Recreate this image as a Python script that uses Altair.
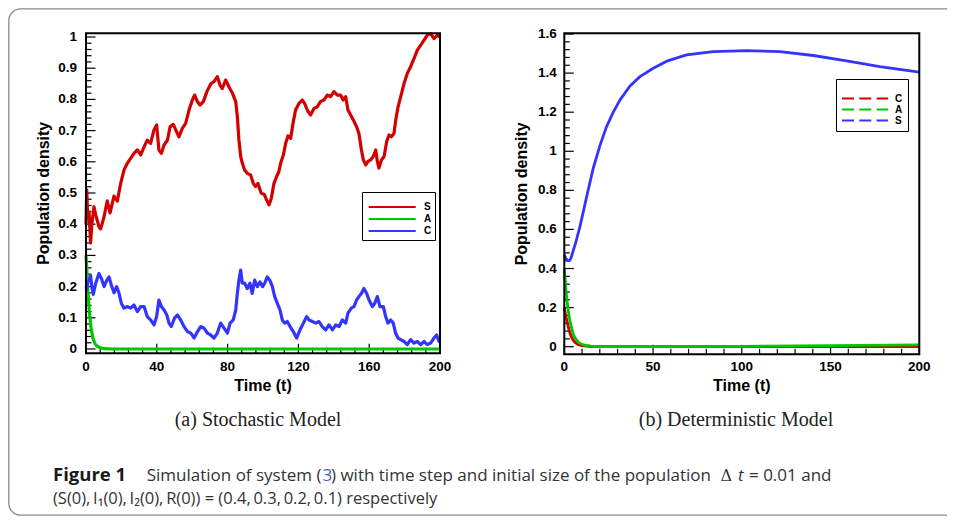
import altair as alt
import pandas as pd

# ---------------- data ----------------
# (a) Stochastic model : (t, value)
a_S = [(0, 0.40), (0.4, 0.51), (1.0, 0.42), (1.7, 0.44), (2.6, 0.34), (3.3, 0.40), (4.5, 0.456),
       (5.5, 0.43), (7.3, 0.392), (8.3, 0.385), (10.2, 0.424), (12.0, 0.475), (13.6, 0.436),
       (15.8, 0.49), (17.7, 0.474), (19.6, 0.531), (21.5, 0.574), (23.4, 0.596), (25.2, 0.611),
       (27.1, 0.627), (29.0, 0.638), (30.9, 0.622), (32.8, 0.648), (34.6, 0.669), (36.5, 0.659),
       (38.4, 0.702), (39.9, 0.718), (41.2, 0.638), (42.6, 0.627), (44.1, 0.654), (46.0, 0.669),
       (47.5, 0.712), (49.3, 0.72), (51.6, 0.691), (52.5, 0.68), (54.4, 0.707), (56.3, 0.723),
       (58.2, 0.766), (60.1, 0.798), (61.4, 0.814), (62.9, 0.793), (64.4, 0.782), (66.3, 0.793),
       (68.3, 0.825), (70.6, 0.851), (72.3, 0.857), (74.2, 0.873), (75.7, 0.846), (77.0, 0.835),
       (78.9, 0.862), (80.8, 0.84), (82.7, 0.82), (84.6, 0.793), (85.5, 0.745), (86.4, 0.67),
       (87.4, 0.617), (88.3, 0.596), (89.6, 0.574), (91.1, 0.563), (93.0, 0.558), (94.5, 0.531),
       (95.8, 0.521), (97.1, 0.531), (99.0, 0.499), (100.8, 0.495), (102.0, 0.478), (103.4, 0.462),
       (104.7, 0.483), (106.2, 0.531), (107.7, 0.553), (109.0, 0.569), (110.0, 0.596), (111.5, 0.622),
       (112.8, 0.659), (114.1, 0.683), (115.6, 0.675), (117.1, 0.728), (118.4, 0.766), (120.3, 0.787),
       (122.2, 0.798), (123.5, 0.787), (125.0, 0.766), (126.9, 0.75), (128.8, 0.771), (130.6, 0.776),
       (132.5, 0.793), (134.4, 0.798), (136.3, 0.814), (138.2, 0.809), (140.1, 0.825), (142.0, 0.814),
       (143.8, 0.814), (145.3, 0.798), (146.7, 0.809), (148.0, 0.766), (149.5, 0.75), (151.4, 0.73),
       (152.9, 0.712), (154.2, 0.691), (155.6, 0.638), (156.7, 0.606), (158.0, 0.59), (159.3, 0.601),
       (160.8, 0.606), (162.3, 0.617), (163.7, 0.638), (164.6, 0.601), (165.5, 0.58), (166.9, 0.606),
       (168.4, 0.617), (169.9, 0.665), (171.2, 0.686), (172.5, 0.68), (174.0, 0.691), (175.0, 0.734),
       (176.3, 0.776), (177.8, 0.809), (179.7, 0.851), (181.5, 0.883), (183.4, 0.905), (185.3, 0.931),
       (187.2, 0.958), (189.1, 0.974), (191.0, 0.99), (192.8, 1.006), (194.7, 1.011), (196.6, 0.995),
       (198.5, 1.006), (200.0, 1.0)]
a_A = [(0, 0.30), (0.5, 0.25), (1.0, 0.19), (1.5, 0.15), (2.0, 0.115), (2.5, 0.085), (3.0, 0.062),
       (4.0, 0.033), (5.0, 0.018), (6.0, 0.01), (8.0, 0.004), (10.0, 0.001), (15.0, 0.0), (200.0, 0.0)]
a_C = [(0, 0.2), (0.4, 0.19), (1.0, 0.215), (1.7, 0.22), (2.6, 0.235), (3.3, 0.2), (4.1, 0.175),
       (5.5, 0.211), (7.3, 0.242), (8.7, 0.226), (10.2, 0.2), (11.7, 0.22), (13.0, 0.231),
       (14.3, 0.205), (15.8, 0.18), (17.3, 0.2), (18.6, 0.18), (20.0, 0.146), (21.5, 0.131),
       (23.4, 0.136), (25.2, 0.131), (27.1, 0.141), (29.0, 0.12), (30.9, 0.136), (32.8, 0.136),
       (34.6, 0.104), (36.5, 0.093), (38.4, 0.077), (39.9, 0.104), (41.2, 0.157), (42.6, 0.136),
       (44.1, 0.125), (45.6, 0.11), (46.9, 0.083), (48.2, 0.072), (50.1, 0.1), (51.6, 0.109),
       (53.5, 0.093), (55.4, 0.072), (57.3, 0.056), (59.2, 0.051), (61.1, 0.035), (63.0, 0.056),
       (64.8, 0.072), (66.7, 0.067), (68.6, 0.051), (70.4, 0.045), (72.3, 0.035), (74.2, 0.051),
       (76.1, 0.083), (78.0, 0.067), (79.9, 0.051), (81.4, 0.083), (83.2, 0.093), (84.6, 0.125),
       (85.5, 0.178), (86.4, 0.221), (87.4, 0.253), (88.3, 0.211), (89.6, 0.211), (91.1, 0.194),
       (92.6, 0.211), (93.9, 0.178), (95.3, 0.221), (96.8, 0.2), (98.3, 0.215), (99.8, 0.2),
       (101.3, 0.215), (102.4, 0.231), (103.9, 0.22), (105.3, 0.2), (106.6, 0.168), (108.1, 0.146),
       (109.6, 0.125), (110.9, 0.093), (112.2, 0.083), (113.7, 0.088), (115.3, 0.072), (117.1, 0.056),
       (119.0, 0.035), (120.9, 0.061), (122.8, 0.083), (124.7, 0.104), (126.0, 0.093), (127.9, 0.088),
       (129.8, 0.083), (131.6, 0.088), (133.5, 0.072), (135.4, 0.061), (137.3, 0.077), (139.2, 0.061),
       (141.1, 0.077), (143.0, 0.072), (144.8, 0.093), (146.7, 0.083), (148.0, 0.115), (149.9, 0.131),
       (151.4, 0.136), (152.9, 0.157), (154.2, 0.168), (155.6, 0.178), (157.0, 0.194), (158.6, 0.178),
       (159.9, 0.157), (161.8, 0.136), (163.1, 0.146), (164.6, 0.168), (166.1, 0.136), (168.0, 0.136),
       (169.3, 0.104), (170.6, 0.083), (172.1, 0.093), (173.6, 0.083), (174.9, 0.051), (176.3, 0.035),
       (177.8, 0.03), (179.7, 0.024), (181.5, 0.014), (183.4, 0.03), (185.3, 0.019), (187.2, 0.024),
       (189.1, 0.014), (191.0, 0.024), (192.8, 0.014), (194.7, 0.019), (196.6, 0.035), (198.1, 0.045),
       (199.4, 0.024), (200.0, 0.03)]

# (b) Deterministic model
b_S = [(0, 0.47), (1, 0.45), (2, 0.44), (3, 0.44), (4, 0.46), (5, 0.49), (6.5, 0.535), (8.8, 0.614),
       (12.6, 0.768), (16.3, 0.913), (20.1, 1.03), (23.8, 1.126), (27.6, 1.20), (31.4, 1.263),
       (37.0, 1.334), (42.6, 1.382), (50.1, 1.425), (57.7, 1.461), (68.9, 1.493), (83.9, 1.51),
       (102.7, 1.515), (121.5, 1.51), (140.3, 1.49), (159.0, 1.462), (177.8, 1.433), (200.0, 1.405)]
b_C = [(0, 0.2), (1, 0.15), (2, 0.11), (3, 0.075), (4, 0.05), (5, 0.034), (6, 0.022), (8, 0.01),
       (10, 0.005), (15, 0.001), (20, 0.0), (200, 0.001)]
b_A = [(0, 0.4), (1, 0.28), (2, 0.2), (3, 0.14), (4, 0.1), (5, 0.065), (6, 0.045), (8, 0.022),
       (10, 0.012), (12, 0.007), (15, 0.003), (20, 0.001), (50, 0.0), (100, 0.002), (150, 0.005),
       (200, 0.009)]

series_a = ["S", "A", "C"]
series_b = ["C", "A", "S"]
colors_a = ["#d40000", "#00c800", "#3434ff"]
colors_b = ["#d40000", "#00c800", "#3434ff"]

a_x_major = [0, 40, 80, 120, 160, 200]
a_y_major = [0, 0.1, 0.2, 0.3, 0.4, 0.5, 0.6, 0.7, 0.8, 0.9, 1]
b_x_major = [0, 50, 100, 150, 200]
b_y_major = [0, 0.2, 0.4, 0.6, 0.8, 1, 1.2, 1.4, 1.6]
a_x_minor = [v for v in range(0, 201, 8) if v % 40]
a_y_minor = [round(i * 0.02, 2) for i in range(51) if i % 5]
b_x_minor = [v for v in range(0, 201, 10) if v % 50]
b_y_minor = [round(i * 0.04, 2) for i in range(41) if i % 5]

x_title = "Time (t)"
y_title = "Population density"
cap_a = "(a) Stochastic Model"
cap_b = "(b) Deterministic Model"
fig_label = "Figure 1"
line1_parts = ["Simulation of system (", "3", ") with time step and initial size of the population",
               "\u0394", "t", "= 0.01 and"]
line2 = ("(S(0),\u2009I\u2081(0),\u2009I\u2082(0),\u2009R(0)) = "
         "(0.4,\u20090.3,\u20090.2,\u20090.1) respectively")

# ---------------- layout (pixels inside the svg) ----------------
W, H = 939, 508
AX = [78, 432]
AY_dom, AY_rng = [-0.0138, 1.0119], [345.3, 25.3]
BX = [556.3, 911.3]
BY_dom, BY_rng = [-0.0389, 1.6036], [346.3, 25.3]

FONT = "Liberation Sans"


def long_df(named):
    rows = []
    for name, pts in named:
        for t, v in pts:
            rows.append({"t": t, "v": v, "series": name})
    return pd.DataFrame(rows)


def panel(df, xr, ydom, yrng, xmaj, xmin, ymaj, ymin, order, colors, legend, lw,
          ylab_dx, xlab_dy, xtitle_dy, ytitle_px):
    xs = alt.Scale(domain=[0, 200], range=xr, nice=False, zero=False)
    ys = alt.Scale(domain=ydom, range=yrng, nice=False, zero=False)
    xpx = 200.0 / (xr[1] - xr[0])
    ypx = (ydom[1] - ydom[0]) / (yrng[0] - yrng[1])

    def X(field=None, datum=None):
        if field is not None:
            return alt.X(field, scale=xs, axis=None)
        return alt.XDatum(datum, type="quantitative", scale=xs, axis=None)

    def Y(field=None, datum=None):
        if field is not None:
            return alt.Y(field, scale=ys, axis=None)
        return alt.YDatum(datum, type="quantitative", scale=ys, axis=None)

    lines = alt.Chart(df).mark_line(strokeWidth=lw, strokeJoin="round").encode(
        x=X("t:Q"), y=Y("v:Q"),
        color=alt.Color("series:N", scale=alt.Scale(domain=order, range=colors), legend=legend),
        order=alt.Order("t:Q"),
    )

    def yt(vals, L):
        return alt.Chart(pd.DataFrame({"v": vals})).mark_rule(color="black", strokeWidth=1.2).encode(
            y=Y("v:Q"), x=X(datum=0), x2=alt.X2Datum(L * xpx))

    def xt(vals, L):
        return alt.Chart(pd.DataFrame({"t": vals})).mark_rule(color="black", strokeWidth=1.2).encode(
            x=X("t:Q"), y=Y(datum=ydom[0]), y2=alt.Y2Datum(ydom[0] + L * ypx))

    lab = dict(font=FONT, fontWeight="bold", fontSize=13.5, color="black")
    ylabels = alt.Chart(pd.DataFrame({"v": ymaj})).mark_text(
        align="right", baseline="middle", dx=ylab_dx, **lab).encode(
        y=Y("v:Q"), x=X(datum=0), text=alt.Text("v:Q", format=".1~f"))
    xlabels = alt.Chart(pd.DataFrame({"t": xmaj})).mark_text(
        align="center", baseline="top", dy=xlab_dy, **lab).encode(
        x=X("t:Q"), y=Y(datum=ydom[0]), text=alt.Text("t:Q", format="d"))
    ttl = dict(font=FONT, fontWeight="bold", fontSize=16, color="black")
    xtitle = alt.Chart(pd.DataFrame({"label": [x_title]})).mark_text(
        align="center", baseline="alphabetic", dy=xtitle_dy, **ttl).encode(
        x=X(datum=100), y=Y(datum=ydom[0]), text="label:N")
    ytitle = alt.Chart(pd.DataFrame({"label": [y_title]})).mark_text(
        align="center", baseline="middle", angle=270, **ttl).encode(
        x=X(datum=-ytitle_px * xpx), y=Y(datum=(ydom[0] + ydom[1]) / 2), text="label:N")

    box = alt.Chart(pd.DataFrame({"k": [0]})).mark_rect(
        fillOpacity=0, stroke="black", strokeWidth=2).encode(
        x=X(datum=0), x2=alt.X2Datum(200), y=Y(datum=ydom[0]), y2=alt.Y2Datum(ydom[1]))
    return alt.layer(yt(ymin, 5.5), yt(ymaj, 9.5), xt(xmin, 5.5), xt(xmaj, 9.5), lines, box,
                     ylabels, xlabels, xtitle, ytitle)


legend_common = dict(orient="none", title=" ", titlePadding=0.5,
                     labelFont=FONT, labelFontWeight="bold",
                     labelFontSize=10, labelColor="black", symbolStrokeWidth=2,
                     strokeColor="black", fillColor="white", rowPadding=0, labelLimit=50)
leg_a = alt.Legend(legendX=354, legendY=184, symbolType="M-0.6,0H7.95", symbolSize=121,
                   padding=3.5, titleFontSize=4.5, labelOffset=45.5, **legend_common)
leg_b = alt.Legend(legendX=828, legendY=71, symbolType="M-1,0H8.2", symbolSize=100,
                   symbolDash=[12, 5.3], padding=5, titleFontSize=8, labelOffset=42,
                   **legend_common)

df_a = long_df([("S", a_S), ("A", a_A), ("C", a_C)])
df_b = long_df([("C", b_C), ("A", b_A), ("S", b_S)])

pa = panel(df_a, AX, AY_dom, AY_rng, a_x_major, a_x_minor, a_y_major, a_y_minor,
           series_a, colors_a, leg_a, 3.2, -9, 6.5, 37.5, 42.5)
pb = panel(df_b, BX, BY_dom, BY_rng, b_x_major, b_x_minor, b_y_major, b_y_minor,
           series_b, colors_b, leg_b, 2.8, -7.5, 6, 36.5, 42.3)


def text(s, x, y, font, size, weight="normal", style="normal", color="#333333", align="left"):
    return alt.Chart(pd.DataFrame({"label": [s]})).mark_text(
        font=font, fontSize=size, fontWeight=weight, fontStyle=style, color=color,
        align=align, baseline="alphabetic").encode(
        x=alt.value(x), y=alt.value(y), text="label:N")


frame = alt.Chart(pd.DataFrame({"k": [0]})).mark_rect(
    fillOpacity=0, stroke="#8a8a8a", strokeWidth=1.3, cornerRadius=12).encode(
    x=alt.value(0.8), x2=alt.value(W + 40), y=alt.value(0.8), y2=alt.value(H - 0.8))

CAP = "Open Sans"
base_y1, base_y2 = 472.7, 495.5
texts = [
    text(cap_a, 250, 418, "Liberation Serif", 20, color="#222222", align="center"),
    text(cap_b, 728, 418, "Liberation Serif", 20, color="#222222", align="center"),
    text(fig_label, 45, base_y1, CAP, 18.5, weight="bold", color="#1a1a1a"),
    text(line1_parts[0], 138.7, base_y1, CAP, 17),
    text(line1_parts[1], 314.5, base_y1, CAP, 17, color="#3d5fc4"),
    text(line1_parts[2], 323, base_y1, CAP, 17),
    text(line1_parts[3], 712.5, base_y1, "DejaVu Serif", 16),
    text(line1_parts[4], 730, base_y1, CAP, 17, style="italic"),
    text(line1_parts[5], 741, base_y1, CAP, 17),
    text(line2, 45, base_y2, CAP, 16.5),
]

chart = alt.layer(frame, pa, pb, *texts).resolve_scale(
    x="independent", y="independent", color="independent"
).properties(
    width=W, height=H, padding=0, autosize=alt.AutoSizeParams(type="none"), background="white"
).configure_view(strokeWidth=0)

chart.save("out.html", embed_options={"renderer": "svg", "actions": False})
